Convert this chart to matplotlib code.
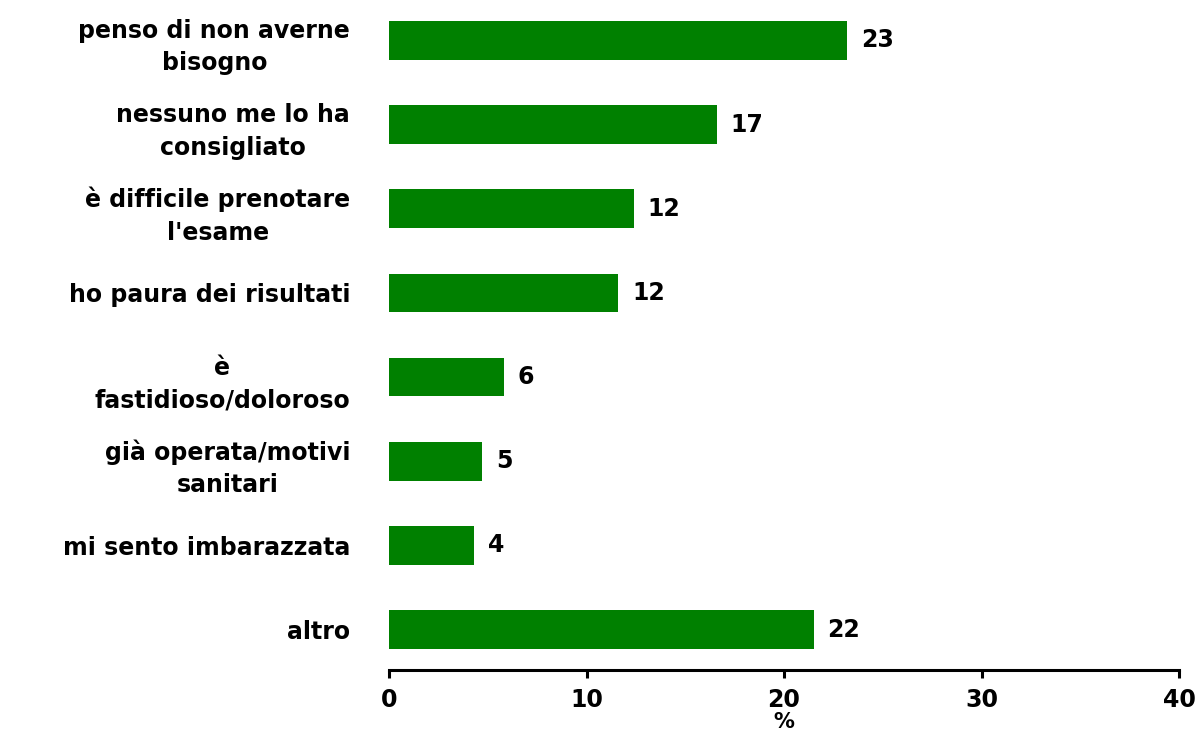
import matplotlib
matplotlib.use("Agg")
import matplotlib.pyplot as plt
import numpy as np

# Data
categories = [
    "penso di non averne\nbisogno",
    "nessuno me lo ha\nconsigliato",
    "è difficile prenotare\nl'esame",
    "ho paura dei risultati",
    "è\nfastidioso/doloroso",
    "già operata/motivi\nsanitari",
    "mi sento imbarazzata",
    "altro",
]
values = [23.2, 16.6, 12.4, 11.6, 5.8, 4.7, 4.3, 21.5]
value_labels = ["23", "17", "12", "12", "6", "5", "4", "22"]
x_ticks = [0, 10, 20, 30, 40]

# wide bold sans, closest to the spaced-out look of the original
plt.rcParams['font.family'] = ['DejaVu Sans']
plt.rcParams['font.weight'] = 'bold'

fig = plt.figure(figsize=(11.96, 7.37), dpi=100)
ax = fig.add_axes([0.3253, 0.0909, 0.6605, 0.9091])

positions = np.arange(len(categories))
ax.barh(positions, values, height=0.46, color='#008000')

for pos, val, lab in zip(positions, values, value_labels):
    ax.annotate(lab, xy=(val, pos), xytext=(10, 0), textcoords='offset points',
                ha='left', va='center', fontsize=17, fontweight='bold')

ax.set_xlim(0, 40)
ax.set_ylim(len(categories) - 1 + 0.48, -0.48)

ax.set_yticks(positions)
ax.set_yticklabels(categories, fontsize=17, fontweight='bold', linespacing=1.45)
for t in ax.get_yticklabels():
    t.set_multialignment('center')
ax.tick_params(axis='y', length=0, pad=28)

ax.set_xticks(x_ticks)
ax.set_xticklabels([str(v) for v in x_ticks], fontsize=17, fontweight='bold')
ax.tick_params(axis='x', length=6, width=2.2, direction='out', pad=7)
ax.set_xlabel("%", fontsize=15, fontweight='bold', labelpad=0)

for side in ['left', 'top', 'right']:
    ax.spines[side].set_visible(False)
ax.spines['bottom'].set_linewidth(2.2)

fig.savefig("out.png", dpi=100)
